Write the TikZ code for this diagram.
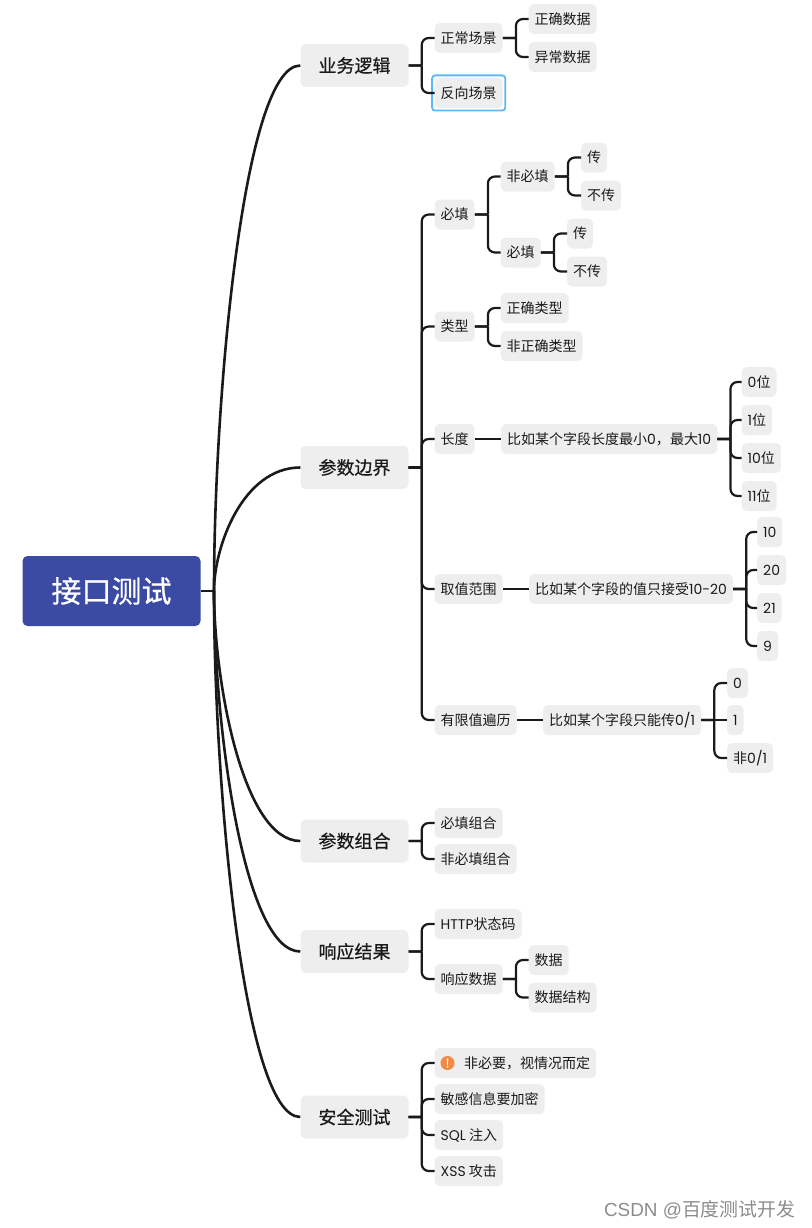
\documentclass[tikz,border=0pt]{standalone}
\usepackage{fontspec}
\setmainfont{Noto Sans CJK SC}
\newfontfamily\lat{Poppins}
\newfontfamily\heavy[FakeBold=0.6]{Noto Sans CJK SC}
\newfontfamily\wmark{Liberation Sans}
\usepackage{tikz}
\usetikzlibrary{calc,fit}
\newcommand{\wide}{\symbol{"FF0C}}
\definecolor{indigo}{HTML}{3B4BA4}
\definecolor{chip}{HTML}{EEEEEE}
\definecolor{ink}{HTML}{1A1A1A}
\definecolor{sky}{HTML}{5CB8F4}
\definecolor{amber}{HTML}{F08A45}
\tikzstyle{rootbox}=[rectangle, rounded corners=5pt, fill=indigo, text=white, anchor=center, minimum width=178pt, minimum height=70pt, inner sep=0pt, font=\heavy\fontsize{30}{35}\selectfont]
\tikzstyle{mainbox}=[rectangle, rounded corners=5pt, fill=chip, text=ink, anchor=center, minimum width=108pt, minimum height=43pt, inner sep=0pt, font=\heavy\fontsize{18}{21}\selectfont]
\tikzstyle{leaf}=[rectangle, rounded corners=5pt, fill=chip, text=ink, anchor=west, minimum height=30pt, inner xsep=6pt, inner ysep=0pt, text height=13.6pt, text depth=3pt, font=\fontsize{14}{17}\selectfont]
\tikzstyle{stem}=[draw=ink, line width=2.2pt, to path={(\tikztostart.east) -- (\tikztotarget.west)}]
\tikzstyle{bracket}=[draw=ink, line width=2.2pt, to path={(\tikztostart.east) -- ++(13,0) (\tikztostart.east) ++(13,0) [rounded corners=7pt] |- (\tikztotarget.west)}]
\tikzstyle{limb}=[draw=ink, line width=2.6pt, to path={let \p1=(\tikztostart), \p2=(\tikztotarget.west) in .. controls (\x1,{\y1+0.363*(\y2-\y1)}) and ({\x1+29pt},\y2) .. (\x2,\y2)}]
\begin{document}
\begin{tikzpicture}[x=1pt, y=-1pt]
	\useasboundingbox (0,0) rectangle (811,1228);
	\begin{scope}
		\node (0) at (111.5,591)[rootbox] {接口测试};
		\coordinate (0j) at (214,591);
		\node (1) at (354.5,65.5)[mainbox] {业务逻辑};
		\node (2) at (354.5,467.5)[mainbox] {参数边界};
		\node (3) at (354.5,841)[mainbox] {参数组合};
		\node (4) at (354.5,951.5)[mainbox] {响应结果};
		\node (5) at (354.5,1117)[mainbox] {安全测试};

		\node (11) at (434.5,38)[leaf] {正常场景};
		\node (12) at (434.5,93)[leaf] {反向场景};
		\node (12o) [fit=(12), rectangle, rounded corners=3pt, draw=sky, line width=1.8pt, inner sep=2.4pt] {};
		\node (111) at (528.5,19)[leaf] {正确数据};
		\node (112) at (528.5,57)[leaf] {异常数据};

		\node (21) at (434.5,214.5)[leaf] {必填};
		\node (211) at (500.5,176.5)[leaf] {非必填};
		\node (212) at (500.5,252.5)[leaf] {必填};
		\node (2111) at (581,157.5)[leaf] {传};
		\node (2112) at (581,195.5)[leaf] {不传};
		\node (2121) at (567,233.5)[leaf] {传};
		\node (2122) at (567,271.5)[leaf] {不传};
		\node (22) at (434.5,326.5)[leaf] {类型};
		\node (221) at (500.5,308)[leaf] {正确类型};
		\node (222) at (500.5,346)[leaf] {非正确类型};
		\node (23) at (434.5,439)[leaf] {长度};
		\node (231) at (501,439)[leaf] {比如某个字段长度最小{\lat 0}\wide 最大{\lat 10}};
		\node (2311) at (741.5,382)[leaf] {{\lat 0}位};
		\node (2312) at (741.5,420)[leaf] {{\lat 1}位};
		\node (2313) at (741.5,458)[leaf] {{\lat 10}位};
		\node (2314) at (741.5,496)[leaf] {{\lat 11}位};
		\node (24) at (434.5,589)[leaf] {取值范围};
		\node (241) at (529,589)[leaf] {比如某个字段的值只接受{\lat 10-20}};
		\node (2411) at (757,532)[leaf] {\lat 10};
		\node (2412) at (757,570)[leaf] {\lat 20};
		\node (2413) at (757,608)[leaf] {\lat 21};
		\node (2414) at (757,646)[leaf] {\lat 9};
		\node (25) at (434.5,720)[leaf] {有限值遍历};
		\node (251) at (543,720)[leaf] {比如某个字段只能传{\lat 0/1}};
		\node (2511) at (727,683)[leaf] {\lat 0};
		\node (2512) at (727,720)[leaf] {\lat 1};
		\node (2513) at (727,758)[leaf] {非{\lat 0/1}};

		\node (31) at (434.5,823)[leaf] {必填组合};
		\node (32) at (434.5,859)[leaf] {非必填组合};

		\node (41) at (434.5,924)[leaf] {{\lat HTTP}状态码};
		\node (42) at (434.5,979)[leaf] {响应数据};
		\node (421) at (528.5,960)[leaf] {数据};
		\node (422) at (528.5,997.5)[leaf] {数据结构};

		\node (51) at (434.5,1063)[leaf] {\hspace{23.5pt}非必要\wide 视情况而定};
		\node (51i) at (447.5,1063)[circle, fill=amber, text=white, inner sep=0pt, minimum size=14pt, font=\heavy\fontsize{12}{12}\selectfont] {!};
		\node (52) at (434.5,1099)[leaf] {敏感信息要加密};
		\node (53) at (434.5,1135)[leaf] {{\lat SQL} 注入};
		\node (54) at (434.5,1171)[leaf] {{\lat XSS} 攻击};

		\node (wm) at (799,1209.5)[anchor=east, text=black!45, font=\fontsize{18.9}{24}\selectfont] {{\wmark CSDN @}百度测试开发};
	\end{scope}
	\begin{scope}
		\path [stem] (0) edge (0j);
		\path [limb] (0j) edge (1);
		\path [limb] (0j) edge (2);
		\path [limb] (0j) edge (3);
		\path [limb] (0j) edge (4);
		\path [limb] (0j) edge (5);

		\path [bracket] (1) edge (11);
		\path [bracket] (1) edge (12);
		\path [bracket] (11) edge (111);
		\path [bracket] (11) edge (112);

		\path [bracket] (2) edge (21);
		\path [bracket] (2) edge (22);
		\path [bracket] (2) edge (23);
		\path [bracket] (2) edge (24);
		\path [bracket] (2) edge (25);
		\path [bracket] (21) edge (211);
		\path [bracket] (21) edge (212);
		\path [bracket] (211) edge (2111);
		\path [bracket] (211) edge (2112);
		\path [bracket] (212) edge (2121);
		\path [bracket] (212) edge (2122);
		\path [bracket] (22) edge (221);
		\path [bracket] (22) edge (222);
		\path [stem] (23) edge (231);
		\path [bracket] (231) edge (2311);
		\path [bracket] (231) edge (2312);
		\path [bracket] (231) edge (2313);
		\path [bracket] (231) edge (2314);
		\path [stem] (24) edge (241);
		\path [bracket] (241) edge (2411);
		\path [bracket] (241) edge (2412);
		\path [bracket] (241) edge (2413);
		\path [bracket] (241) edge (2414);
		\path [stem] (25) edge (251);
		\path [bracket] (251) edge (2511);
		\path [stem] (251) edge (2512);
		\path [bracket] (251) edge (2513);

		\path [bracket] (3) edge (31);
		\path [bracket] (3) edge (32);

		\path [bracket] (4) edge (41);
		\path [bracket] (4) edge (42);
		\path [bracket] (42) edge (421);
		\path [bracket] (42) edge (422);

		\path [bracket] (5) edge (51);
		\path [bracket] (5) edge (52);
		\path [bracket] (5) edge (53);
		\path [bracket] (5) edge (54);
	\end{scope}
\end{tikzpicture}
\end{document}
